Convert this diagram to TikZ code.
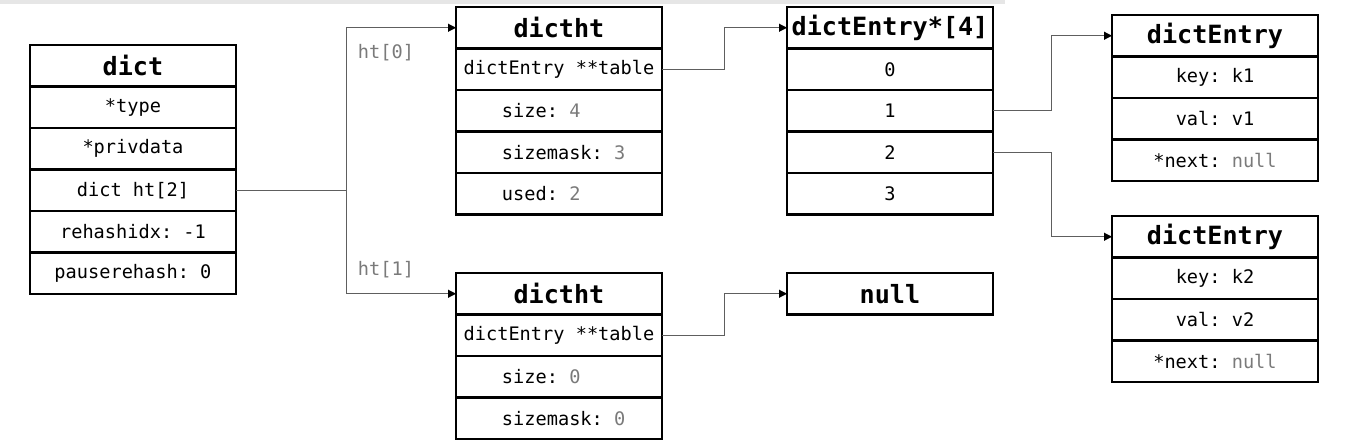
\documentclass[tikz,border=0pt]{standalone}
\usepackage{fontspec}
\setmonofont{DejaVu Sans Mono}
\usetikzlibrary{arrows.meta,positioning}
\definecolor{valgray}{HTML}{7A7A7A}
\definecolor{linegray}{HTML}{5E5E5E}
\definecolor{shadegray}{HTML}{E6E6E6}
\newcommand{\val}[1]{\textcolor{valgray}{#1}}
\newcommand{\lft}[1]{\makebox[2.28cm][l]{#1}}

\begin{document}
\begin{tikzpicture}[x=0.02cm, y=-0.02cm,
    cell/.style={draw, rectangle, line width=1.2pt, outer sep=0pt, inner sep=0pt,
      minimum width=4.12cm, minimum height=0.83cm,
      font=\ttfamily\fontsize{10.6}{12}\selectfont},
    head/.style={cell, font=\ttfamily\bfseries\fontsize{14.3}{16}\selectfont},
    link/.style={draw=linegray, line width=0.6pt,
      -{Triangle[length=4.5pt, width=4.5pt, color=black]}},
    htlabel/.style={text=valgray, font=\ttfamily\fontsize{10.6}{12}\selectfont}]
  \useasboundingbox (0,0) rectangle (1352,440);
  % screenshot shade at the top
  \fill[shadegray] (0,0) rectangle (1005,4);

  % dict box
  \node[head, anchor=north west] (dict) at (30,45) {dict};
  \node[cell, below=0pt of dict] (dtype) {*type};
  \node[cell, below=0pt of dtype] (dpriv) {*privdata};
  \node[cell, below=0pt of dpriv] (dht) {dict ht[2]};
  \node[cell, below=0pt of dht] (drehash) {rehashidx: -1};
  \node[cell, below=0pt of drehash] (dpause) {pauserehash: 0};

  % dictht ht[0]
  \node[head, anchor=north west] (hta) at (456,7) {dictht};
  \node[cell, below=0pt of hta] (htatable) {dictEntry **table};
  \node[cell, below=0pt of htatable] (htasize) {\lft{size: \val{4}}};
  \node[cell, below=0pt of htasize] (htamask) {\lft{sizemask: \val{3}}};
  \node[cell, below=0pt of htamask] (htaused) {\lft{used: \val{2}}};

  % dictht ht[1]
  \node[head, anchor=north west] (htb) at (456,273) {dictht};
  \node[cell, below=0pt of htb] (htbtable) {dictEntry **table};
  \node[cell, below=0pt of htbtable] (htbsize) {\lft{size: \val{0}}};
  \node[cell, below=0pt of htbsize] (htbmask) {\lft{sizemask: \val{0}}};

  % bucket array
  \node[head, anchor=north west] (arr) at (787,7) {dictEntry*[4]};
  \node[cell, below=0pt of arr] (arr0) {0};
  \node[cell, below=0pt of arr0] (arr1) {1};
  \node[cell, below=0pt of arr1] (arr2) {2};
  \node[cell, below=0pt of arr2] (arr3) {3};

  % empty table
  \node[head, anchor=north west] (nul) at (787,273) {null};

  % first entry
  \node[head, anchor=north west] (ea) at (1112,15) {dictEntry};
  \node[cell, below=0pt of ea] (eakey) {key: k1};
  \node[cell, below=0pt of eakey] (eaval) {val: v1};
  \node[cell, below=0pt of eaval] (eanext) {*next: \val{null}};

  % second entry
  \node[head, anchor=north west] (eb) at (1112,216) {dictEntry};
  \node[cell, below=0pt of eb] (ebkey) {key: k2};
  \node[cell, below=0pt of ebkey] (ebval) {val: v2};
  \node[cell, below=0pt of ebval] (ebnext) {*next: \val{null}};

  % Arrows
  \draw[draw=linegray, line width=0.6pt] (dht.east) -- ++(111,0) coordinate (fork);
  \draw[link] (fork) |- (hta.west);
  \draw[link] (fork) |- (htb.west);
  \node[htlabel] (lbla) at (386,53) {ht[0]};
  \node[htlabel] (lblb) at (386,270) {ht[1]};
  \draw[link] (htatable.east) -- ++(63,0) |- (arr.west);
  \draw[link] (htbtable.east) -- ++(63,0) |- (nul.west);
  \draw[link] (arr1.east) -- ++(59,0) |- (ea.west);
  \draw[link] (arr2.east) -- ++(59,0) |- (eb.west);
\end{tikzpicture}
\end{document}
